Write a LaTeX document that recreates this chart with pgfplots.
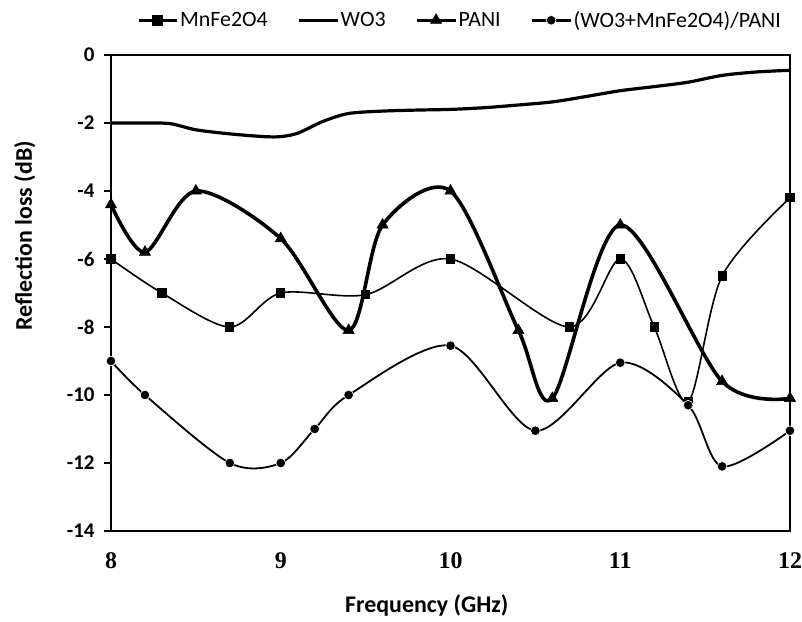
\documentclass[border=0pt]{standalone}
\usepackage{fontspec}
\setmainfont{Carlito}
\newfontfamily\serifb{Liberation Serif}
\usepackage{pgfplots}
\pgfplotsset{compat=1.18}
\begin{document}
\begin{tikzpicture}
\begin{axis}[
  at={(0,0)}, anchor=south west,
  width=679bp, height=476bp, scale only axis,
  xmin=8, xmax=12, ymin=-14, ymax=0,
  xtick={8,9,10,11,12}, ytick={-14,-12,-10,-8,-6,-4,-2,0},
  axis line style={line width=1.6bp},
  ytick pos=left, tick align=outside,
  major tick length=7bp,
  ytick style={line width=1.5bp, black},
  xtick style={draw=none},
  /pgf/number format/assume math mode=true,
  xticklabel style={font=\fontsize{24}{24}\selectfont\serifb\bfseries, yshift=-11bp},
  yticklabel style={font=\fontsize{21}{21}\selectfont\bfseries, xshift=-6bp},
  xlabel={Frequency (GHz)},
  ylabel={Reflection loss (dB)},
  xlabel style={at={(axis description cs:0.465,-0.157)}, anchor=center, font=\fontsize{24}{24}\selectfont\bfseries},
  ylabel style={at={(axis description cs:-0.127,0.62)}, anchor=center, font=\fontsize{24}{24}\selectfont\bfseries},
  legend style={at={(axis description cs:0.514,1.073)}, anchor=center, draw=none, fill=none,
    legend columns=4, font=\fontsize{22}{22}\selectfont,
    /tikz/every even column/.append style={column sep=28bp}},
  legend image code/.code={\draw[mark repeat=2, mark phase=2, #1, line width=3bp] plot coordinates {(0bp,0bp) (19bp,0bp) (38bp,0bp)};},
]
\addplot[black, line width=1.6bp, smooth, mark=square*, mark size=3.8bp, mark options={solid}] coordinates {
(8,-6) (8.3,-7) (8.7,-8) (9,-7) (9.5,-7.05) (10,-6) (10.7,-8) (11,-6) (11.2,-8) (11.4,-10.2) (11.6,-6.5) (12,-4.2)};
\addlegendentry{MnFe2O4}
\addplot[black, line width=3.2bp, smooth] coordinates {
(8.0,-2.0) (8.2,-2.0) (8.35,-2.02) (8.5,-2.2) (8.7,-2.32) (8.9,-2.4) (9.0,-2.4) (9.1,-2.3) (9.25,-1.95) (9.4,-1.72) (9.6,-1.65) (9.8,-1.62) (10.0,-1.6) (10.2,-1.55) (10.4,-1.47) (10.6,-1.38) (10.8,-1.22) (11.0,-1.05) (11.2,-0.93) (11.4,-0.8) (11.6,-0.6) (11.8,-0.5) (12.0,-0.45)};
\addlegendentry{WO3}
\addplot[black, line width=3.6bp, smooth, mark=triangle*, mark size=6.5bp, mark options={line width=0.5bp}] coordinates {
(8,-4.4) (8.2,-5.8) (8.5,-4) (9,-5.4) (9.4,-8.1) (9.6,-5) (10,-4) (10.4,-8.1) (10.6,-10.1) (11,-5) (11.6,-9.6) (12,-10.1)};
\addlegendentry{PANI}
\addplot[black, line width=1.8bp, smooth, mark=*, mark size=4.8bp, mark options={draw=white, fill=black, line width=0.6bp}] coordinates {
(8,-9) (8.2,-10) (8.7,-12) (9,-12) (9.2,-11) (9.4,-10) (10,-8.55) (10.5,-11.05) (11,-9.05) (11.4,-10.3) (11.6,-12.1) (12,-11.05)};
\addlegendentry{(WO3+MnFe2O4)/PANI}
\end{axis}
\pgfresetboundingbox
\path[use as bounding box] (-111bp,-91bp) rectangle (691bp,531bp);
\end{tikzpicture}
\end{document}
